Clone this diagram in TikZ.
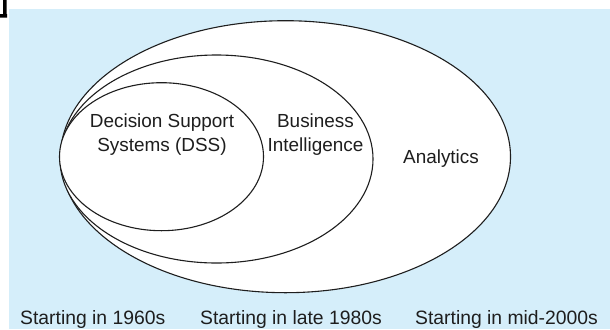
\documentclass[tikz,border=0pt]{standalone}
\usepackage{fontspec}
\setmainfont{Liberation Sans}
\usetikzlibrary{shapes.geometric}
\definecolor{bgblue}{RGB}{213,238,250}
\definecolor{inkc}{RGB}{30,30,30}
\begin{document}
\begin{tikzpicture}[x=1bp,y=-1bp,
  ring/.style={ellipse,draw=inkc,fill=white,line width=1.1bp,inner sep=0pt,outer sep=0pt},
  lbl/.style={font=\fontsize{19}{24}\selectfont,text=inkc,align=center,inner sep=0pt},
  era/.style={font=\fontsize{19.4}{23}\selectfont,text=inkc,anchor=base west,inner sep=0pt}]
\useasboundingbox (0,0) rectangle (610,329);
\fill[bgblue] (9,9) rectangle (610,329);
\fill[black] (3,0) -- (6.5,0) -- (6.5,14) -- (7,14) -- (7,17.5) -- (0,17.5) -- (0,14) -- (3,14) -- cycle;
\node[ring,minimum width=450bp,minimum height=272bp] (ana) at (285.5,156.7) {};
\node[ring,minimum width=313bp,minimum height=208bp] (bi) at (216.5,159) {};
\node[ring,minimum width=204bp,minimum height=148bp] (dss) at (161.5,156.7) {};
\node[lbl,anchor=base] (tdss) at (162,151) {Decision Support\\Systems (DSS)};
\node[lbl,anchor=base] (tbi) at (315.5,151) {Business\\Intelligence};
\node[lbl,anchor=base] (tana) at (441,163) {Analytics};
\node[era] (e1) at (20,324) {Starting in 1960s};
\node[era] (e2) at (200,324) {Starting in late 1980s};
\node[era] (e3) at (415,324) {Starting in mid-2000s};
\end{tikzpicture}
\end{document}
